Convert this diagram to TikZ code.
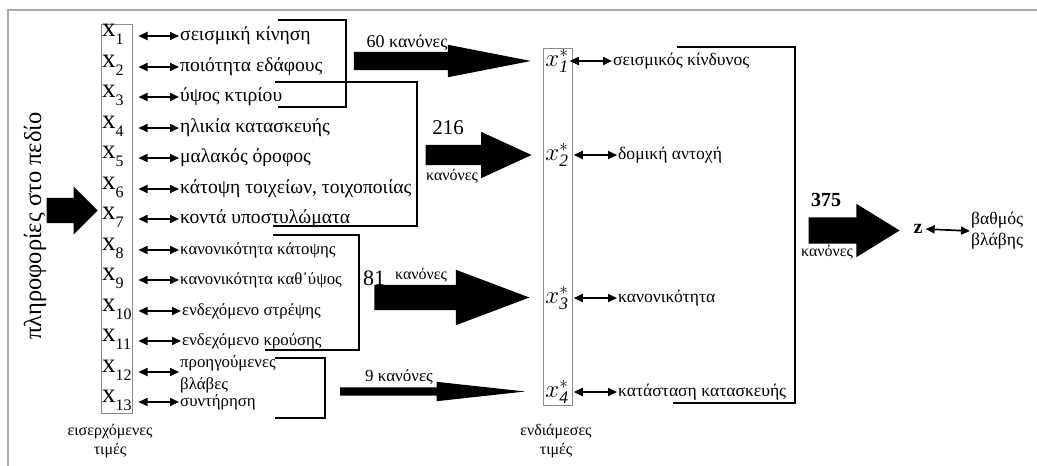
\documentclass[tikz,border=0pt]{standalone}
\usepackage{fontspec}
\setmainfont{Liberation Serif}
\usetikzlibrary{positioning,arrows.meta,calc,shapes.arrows}
\definecolor{frameGray}{HTML}{A8A8A8}
\definecolor{boxGray}{HTML}{8C8C8C}
\newcommand{\xsub}[1]{\raisebox{-0.3em}{\fontsize{16}{16}\selectfont#1}}
\tikzset{
    inlab/.style={anchor=west,inner sep=1pt,font=\fontsize{19.6}{21}\selectfont},
    inlabsmall/.style={anchor=west,inner sep=1pt,font=\fontsize{16.8}{21}\selectfont},
    xlab/.style={anchor=west,inner sep=0pt,font=\fontsize{27}{27}\selectfont},
    starlab/.style={inner sep=1pt,font=\fontsize{25}{25}\selectfont},
    outlab/.style={anchor=west,inner sep=1pt,font=\fontsize{17.6}{21}\selectfont},
    rulelab/.style={inner sep=0pt,font=\fontsize{16}{19}\selectfont},
    numlab/.style={inner sep=0pt,font=\fontsize{21}{21}\selectfont},
    valbox/.style={draw=boxGray,line width=1pt,inner sep=0pt},
    dbl/.style={{Triangle[length=9pt,width=8pt]}-{Triangle[length=9pt,width=8pt]},line width=1.7pt},
    brk/.style={draw=black,line width=2pt},
    fatarrow/.style={single arrow,fill=black,draw=none,inner xsep=0pt,anchor=tip}
}
\begin{document}
\begin{tikzpicture}[x=1pt,y=-1pt]
    \useasboundingbox (0,0) rectangle (1037,466);
    \draw[frameGray,line width=2pt] (8,466) -- (8,10) -- (1037,10);

    % input side
    \node[rotate=90,inner sep=0pt,font=\fontsize{24.5}{24}\selectfont] (info) at (35,226) {πληροφορίες στο πεδίο};
    \node[fatarrow,minimum height=51,inner ysep=12.5pt,single arrow head extend=11.5pt,
        single arrow tip angle=90] (ain) at (98,210.5) {};

    \node[valbox,minimum width=31,minimum height=389] (inbox) at (116.5,218.5) {};
    \node[xlab] (x1) at (102,34) {x\xsub{1}};
    \node[xlab] (x2) at (102,65) {x\xsub{2}};
    \node[xlab] (x3) at (102,95) {x\xsub{3}};
    \node[xlab] (x4) at (102,126) {x\xsub{4}};
    \node[xlab] (x5) at (102,156) {x\xsub{5}};
    \node[xlab] (x6) at (102,187) {x\xsub{6}};
    \node[xlab] (x7) at (102,217) {x\xsub{7}};
    \node[xlab] (x8) at (102,248) {x\xsub{8}};
    \node[xlab] (x9) at (102,278) {x\xsub{9}};
    \node[xlab] (x10) at (102,309) {x\xsub{10}};
    \node[xlab] (x11) at (102,339) {x\xsub{11}};
    \node[xlab] (x12) at (102,370) {x\xsub{12}};
    \node[xlab] (x13) at (102,400) {x\xsub{13}};

    \node[inlab] (l1) at (179,36) {σεισμική κίνηση};
    \node[inlab] (l2) at (179,67) {ποιότητα εδάφους};
    \node[inlab] (l3) at (179,97) {ύψος κτιρίου};
    \node[inlab] (l4) at (179,128) {ηλικία κατασκευής};
    \node[inlab] (l5) at (179,158) {μαλακός όροφος};
    \node[inlab] (l6) at (179,189) {κάτοψη τοιχείων, τοιχοποιίας};
    \node[inlab] (l7) at (179,219) {κοντά υποστυλώματα};
    \node[inlabsmall] (l8) at (179,250) {κανονικότητα κάτοψης};
    \node[inlabsmall] (l9) at (179,280) {κανονικότητα καθ᾽ύψος};
    \node[inlabsmall] (l10) at (181,311) {ενδεχόμενο στρέψης};
    \node[inlabsmall] (l11) at (181,341) {ενδεχόμενο κρούσης};
    \node[inlabsmall,align=left,font=\fontsize{16.8}{22}\selectfont] (l12) at (179,374) {προηγούμενες\\βλάβες};
    \node[inlabsmall] (l13) at (179,402) {συντήρηση};

    \draw[dbl] ($(inbox.east |- l1.west)+(6,0)$) -- (l1.west);
    \draw[dbl] ($(inbox.east |- l2.west)+(6,0)$) -- (l2.west);
    \draw[dbl] ($(inbox.east |- l3.west)+(6,0)$) -- (l3.west);
    \draw[dbl] ($(inbox.east |- l4.west)+(6,0)$) -- (l4.west);
    \draw[dbl] ($(inbox.east |- l5.west)+(6,0)$) -- (l5.west);
    \draw[dbl] ($(inbox.east |- l6.west)+(6,0)$) -- (l6.west);
    \draw[dbl] ($(inbox.east |- l7.west)+(6,0)$) -- (l7.west);
    \draw[dbl] ($(inbox.east |- l8.west)+(6,0)$) -- (l8.west);
    \draw[dbl] ($(inbox.east |- l9.west)+(6,0)$) -- (l9.west);
    \draw[dbl] ($(inbox.east |- l10.west)+(6,0)$) -- (l10.west);
    \draw[dbl] ($(inbox.east |- l11.west)+(6,0)$) -- (l11.west);
    \draw[dbl] ($(inbox.east |- x12)+(6,2)$) -- ($(l12.west |- x12)+(0,2)$);
    \draw[dbl] ($(inbox.east |- l13.west)+(6,0)$) -- (l13.west);

    \node[rulelab,align=center] at (110,441) {εισερχόμενες\\τιμές};

    % rule groups
    \draw[brk] (278,20) -| (346,107) -- (278,107);
    \draw[brk] (275,82) -| (417,226) -- (273,226);
    \draw[brk] (273,235) -| (359,350) -- (265,350);
    \draw[brk] (275,358) -| (325,418) -- (275,418);

    \node[fatarrow,minimum height=177,inner ysep=9pt,single arrow head extend=7pt,
        single arrow tip angle=22.1] (a60) at (532,61) {};
    \node[fatarrow,minimum height=106,inner ysep=10pt,single arrow head extend=13pt,
        single arrow tip angle=49.4] (a216) at (532,155) {};
    \node[fatarrow,minimum height=155,inner ysep=12.5pt,single arrow head extend=15pt,
        single arrow tip angle=41.3] (a81) at (530,297.5) {};
    \node[fatarrow,minimum height=185,inner ysep=4pt,single arrow head extend=5.5pt,
        single arrow tip angle=12.5] (a9) at (527,391.5) {};

    \node[rulelab,font=\fontsize{18}{18}\selectfont] (t60) at (407,43) {60 κανόνες};
    \node[numlab] (n216) at (448,128) {216};
    \node[rulelab] (k216) at (452,176) {κανόνες};
    \node[numlab,font=\fontsize{22}{22}\selectfont] (n81) at (374,278) {81};
    \node[rulelab] (k81) at (421,275) {κανόνες};
    \node[rulelab,font=\fontsize{17}{18}\selectfont] (t9) at (399,377) {9 κανόνες};

    % intermediate values
    \node[valbox,minimum width=29,minimum height=357] (midbox) at (557.5,226.5) {};
    \node[starlab] (s1) at (557,61) {$x^{*}_{\mathit{1}}$};
    \node[starlab] (s2) at (557,155) {$x^{*}_{\mathit{2}}$};
    \node[starlab] (s3) at (557,298) {$x^{*}_{\mathit{3}}$};
    \node[starlab] (s4) at (557,392) {$x^{*}_{\mathit{4}}$};

    \node[outlab] (r1) at (612,61) {σεισμικός κίνδυνος};
    \node[outlab] (r2) at (617,155) {δομική αντοχή};
    \node[outlab] (r3) at (617,298) {κανονικότητα};
    \node[outlab] (r4) at (617,392) {κατάσταση κατασκευής};

    \draw[dbl] (s1.east) -- (r1.west);
    \draw[dbl] ($(s2.east)+(4,0)$) -- (r2.west);
    \draw[dbl] ($(s3.east)+(4,0)$) -- (r3.west);
    \draw[dbl] ($(s4.east)+(4,0)$) -- (r4.west);

    \node[rulelab,align=center] at (556,441) {ενδιάμεσες\\τιμές};

    \draw[brk] (677,47) -| (795,403) -- (673,403);

    % output
    \node[fatarrow,minimum height=91,inner ysep=13pt,single arrow head extend=13.5pt,
        single arrow tip angle=63.3] (a375) at (900,230.5) {};
    \node[numlab,font=\fontsize{20}{20}\selectfont\bfseries] (n375) at (826,200) {375};
    \node[rulelab] (k375) at (827,252) {κανόνες};

    \node[inner sep=3pt,font=\fontsize{20}{20}\selectfont\bfseries] (z) at (918,229) {z};
    \node[outlab,align=left] (dmg) at (970,231) {βαθμός\\βλάβης};
    \draw[dbl] (z.east) -- (dmg.west);
\end{tikzpicture}
\end{document}
